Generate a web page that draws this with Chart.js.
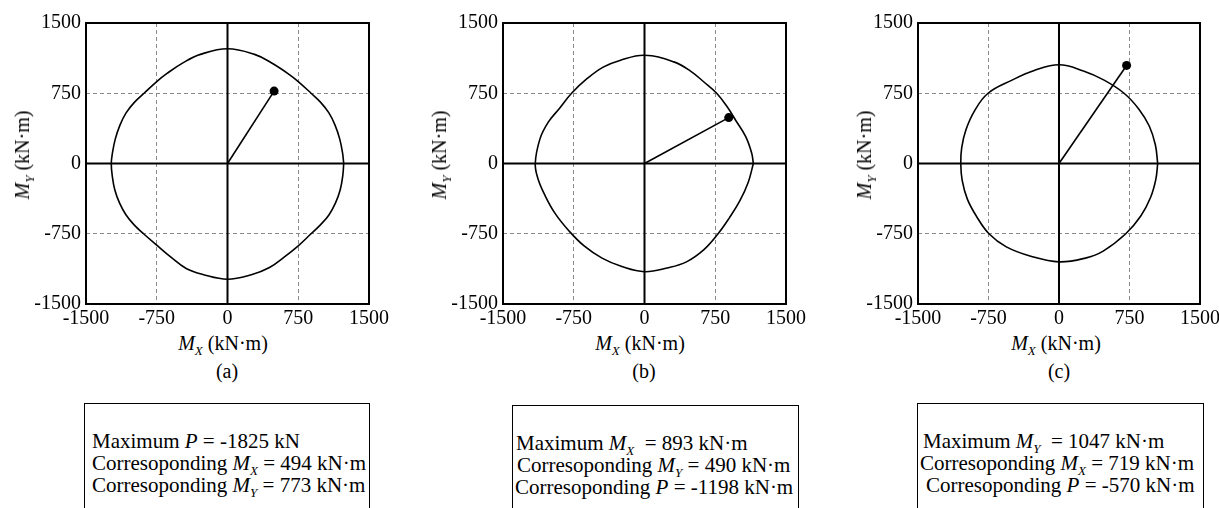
<!DOCTYPE html>
<html>
<head>
<meta charset="utf-8">
<script src="https://cdn.jsdelivr.net/npm/chart.js@4.4.1/dist/chart.umd.min.js"></script>
<style>
  body { margin: 0; width: 1219px; height: 508px; overflow: hidden; position: relative; background: #fff;
         font-family: "Liberation Serif", "Times New Roman", Times, serif; color: #000; }
  canvas { position: absolute; top: 0; }
  .xt, .cap { position: absolute; font-size: 20px; white-space: nowrap; transform: translateX(-50%); line-height: 20px; }
  .yt { position: absolute; font-size: 20px; white-space: nowrap; line-height: 20px; transform: translate(-50%, -50%) rotate(-90deg); }
  sub { font-size: 13px; vertical-align: -5px; font-style: italic; line-height: 0; }
  .box { position: absolute; border: 1px solid #000; height: 220px; width: 287px; box-sizing: border-box;
         font-size: 21px; line-height: 22px; padding-top: 26px; white-space: nowrap; }
</style>
</head>
<body>
<canvas id="ca" width="410" height="330" style="left:0px"></canvas>
<canvas id="cb" width="410" height="330" style="left:410px"></canvas>
<canvas id="cc" width="403" height="330" style="left:820px"></canvas>

<div class="yt" style="left:22px;top:155px"><i>M</i><sub>Y</sub> (kN·m)</div>
<div class="yt" style="left:439px;top:155px"><i>M</i><sub>Y</sub> (kN·m)</div>
<div class="yt" style="left:864px;top:155px"><i>M</i><sub>Y</sub> (kN·m)</div>

<div class="xt" style="left:223px;top:333px"><i>M</i><sub>X</sub> (kN·m)</div>
<div class="xt" style="left:640px;top:333px"><i>M</i><sub>X</sub> (kN·m)</div>
<div class="xt" style="left:1056px;top:333px"><i>M</i><sub>X</sub> (kN·m)</div>

<div class="cap" style="left:227px;top:361px">(a)</div>
<div class="cap" style="left:644px;top:361px">(b)</div>
<div class="cap" style="left:1059px;top:361px">(c)</div>

<div class="box" style="left:84px;top:403px;width:286px">
  <div style="margin-left:7px">Maximum <i>P</i> = -1825 kN</div>
  <div style="margin-left:7px">Corresoponding <i>M</i><sub>X</sub> = 494 kN·m</div>
  <div style="margin-left:7px">Corresoponding <i>M</i><sub>Y</sub> = 773 kN·m</div>
</div>
<div class="box" style="left:512px;top:405px">
  <div style="margin-left:3px">Maximum <i>M</i><sub>X</sub>&nbsp; = 893 kN·m</div>
  <div style="margin-left:4px">Corresoponding <i>M</i><sub>Y</sub> = 490 kN·m</div>
  <div style="margin-left:2px">Corresoponding <i>P</i> = -1198 kN·m</div>
</div>
<div class="box" style="left:917px;top:403px">
  <div style="margin-left:5px">Maximum <i>M</i><sub>Y</sub>&nbsp; = 1047 kN·m</div>
  <div style="margin-left:2px">Corresoponding <i>M</i><sub>X</sub> = 719 kN·m</div>
  <div style="margin-left:8px">Corresoponding <i>P</i> = -570 kN·m</div>
</div>

<script>
// axis ticks (kN·m)
const tickVals = [-1500, -750, 0, 750, 1500];

// (a) max P  -- interaction curve Mx / My, then the design point
const mxA = [1232, 1220, 1190, 1140, 1075, 990, 886, 750, 641, 464, 287, 0, -287, -464, -641, -750, -885, -990, -1075, -1140, -1190, -1220, -1232,
             -1222, -1195, -1145, -1075, -990, -890, -750, -600, -438, -261, 0, 261, 445, 600, 750, 886, 990, 1075, 1145, 1195, 1222, 1232];
const myA = [0, 110, 260, 410, 540, 650, 750, 875, 960, 1075, 1165, 1225, 1165, 1080, 962, 875, 750, 650, 540, 410, 260, 110, 0,
             -130, -280, -420, -550, -655, -750, -872, -1000, -1121, -1185, -1235, -1185, -1111, -1000, -879, -750, -650, -550, -420, -280, -130, 0];
const ptA = [494, 773];

// (b) max Mx
const mxB = [1154, 1136, 1073, 966, 880, 765, 630, 488, 311, 0, -261, -438, -610, -773, -900, -1020, -1108, -1158,
             -1130, -1060, -950, -800, -640, -450, -240, 0, 240, 445, 630, 780, 900, 1010, 1100, 1154];
const myB = [0, 112, 287, 462, 600, 750, 870, 987, 1085, 1155, 1100, 1029, 905, 750, 590, 441, 263, 0,
             -160, -330, -530, -720, -880, -1010, -1100, -1155, -1115, -1050, -920, -750, -580, -400, -200, 0];
const ptB = [893, 490];

// (c) max My
const mxC = [1050, 1025, 960, 850, 692, 480, 260, 0, -270, -500, -755, -900, -990, -1035, -1045,
             -1030, -975, -880, -745, -560, -300, 0, 280, 470, 710, 870, 975, 1030, 1050];
const myC = [0, 200, 400, 580, 750, 890, 988, 1054, 990, 890, 750, 560, 360, 170, 0,
             -180, -380, -560, -750, -890, -990, -1050, -1010, -935, -750, -560, -360, -170, 0];
const ptC = [719, 1047];

const tickFont = { family: '"Liberation Serif", "Times New Roman", serif', size: 20 };

// solid zero axes + black frame, drawn from the scales
const frame = {
  id: 'frame',
  beforeDatasetsDraw(chart) {
    const { ctx, chartArea: a, scales: { x, y } } = chart;
    const x0 = x.getPixelForValue(0), y0 = y.getPixelForValue(0);
    ctx.save();
    ctx.strokeStyle = '#000';
    ctx.lineWidth = 2;
    ctx.beginPath();
    ctx.moveTo(x0, a.top); ctx.lineTo(x0, a.bottom);
    ctx.moveTo(a.left, y0); ctx.lineTo(a.right, y0);
    ctx.stroke();
    ctx.strokeRect(a.left, a.top, a.right - a.left, a.bottom - a.top);
    ctx.restore();
  }
};

function axis(isX, size) {
  return {
    type: 'linear', min: -1500, max: 1500,
    afterBuildTicks: s => { s.ticks = tickVals.map(v => ({ value: v })); },
    afterFit: s => { if (isX) s.height = size; else s.width = size; },
    grid: {
      drawTicks: false, lineWidth: 1,
      color: c => (c.tick && Math.abs(c.tick.value) === 750) ? '#8a8a8a' : 'rgba(0,0,0,0)'
    },
    border: { display: false, dash: [4, 3] },
    ticks: { font: tickFont, color: '#000', padding: isX ? 3 : 5, maxRotation: 0, autoSkip: false,
             callback: v => String(v) }
  };
}

function makeChart(id, mx, my, pt, yW, padR) {
  const curve = mx.map((v, i) => ({ x: v, y: my[i] }));
  new Chart(document.getElementById(id), {
    type: 'scatter',
    data: {
      datasets: [
        { data: curve, showLine: true, borderColor: '#000', borderWidth: 1.6, pointRadius: 0, tension: 0.4 },
        { data: [{ x: 0, y: 0 }, { x: pt[0], y: pt[1] }], showLine: true, borderColor: '#000', borderWidth: 1.6,
          pointRadius: [0, 4.5], pointBackgroundColor: '#000', pointBorderWidth: 0 }
      ]
    },
    options: {
      responsive: false, animation: false,
      layout: { padding: { top: 23, right: padR, left: 0, bottom: 0 } },
      plugins: { legend: { display: false }, tooltip: { enabled: false } },
      scales: { x: axis(true, 26), y: axis(false, yW) }
    },
    plugins: [frame]
  });
}

makeChart('ca', mxA, myA, ptA, 86, 41);
makeChart('cb', mxB, myB, ptB, 93, 34);
makeChart('cc', mxC, myC, ptC, 98, 22);
</script>
</body>
</html>
